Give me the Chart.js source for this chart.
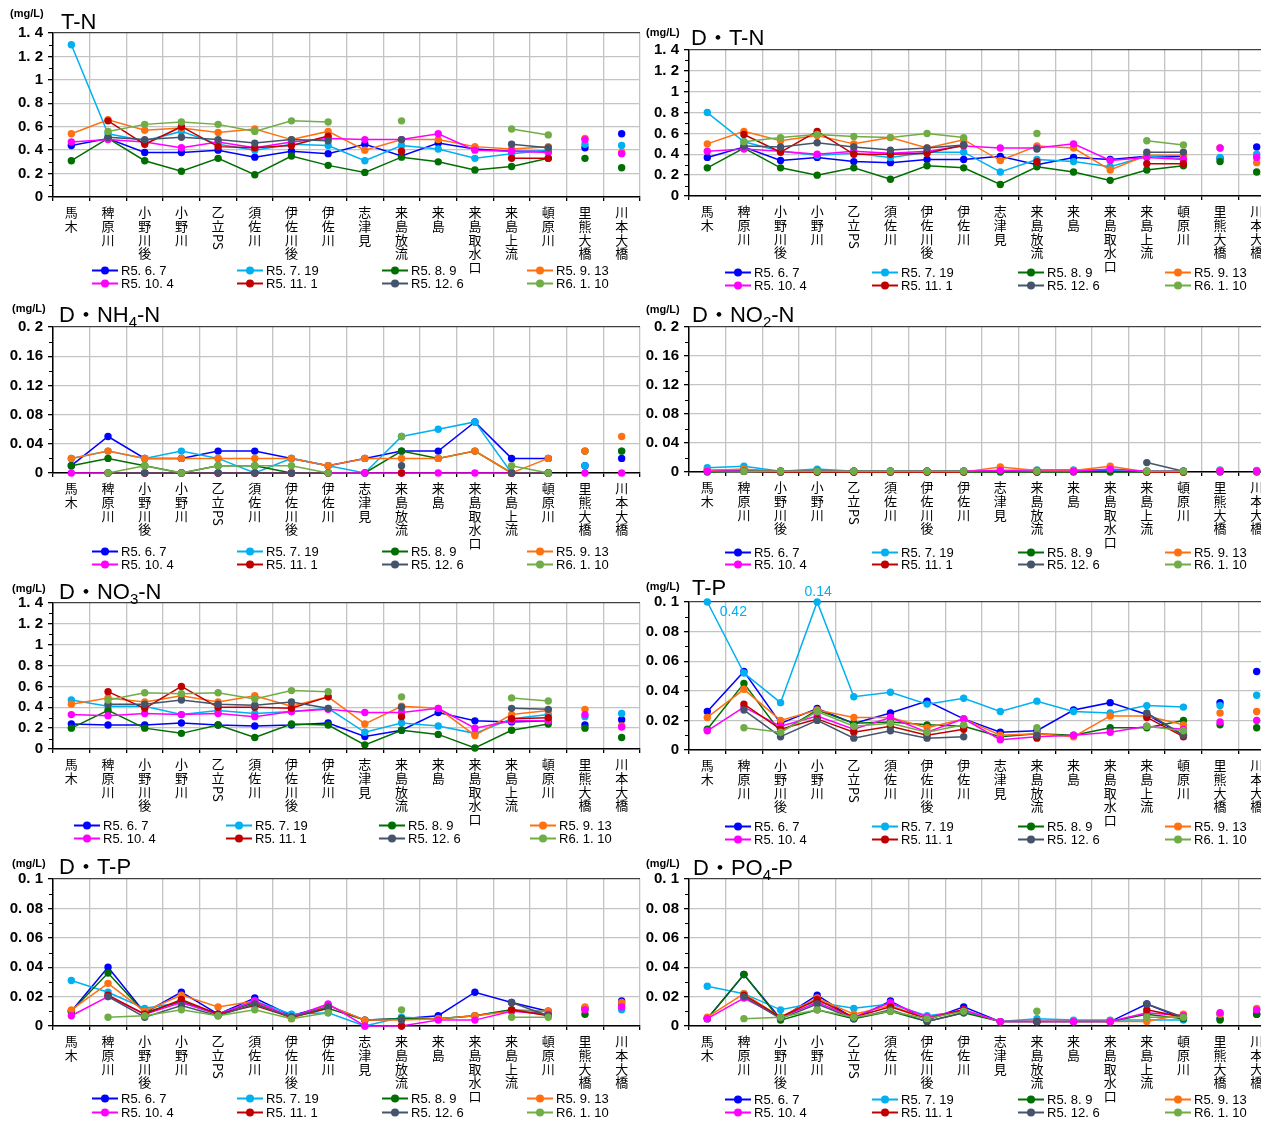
<!DOCTYPE html>
<html>
<head>
<meta charset="utf-8">
<title>水質調査結果</title>
<script src="https://cdn.jsdelivr.net/npm/chart.js@4.4.1/dist/chart.umd.min.js"></script>
<style>
  html, body { margin: 0; padding: 0; background: #fff; }
  body { position: relative; width: 1261px; height: 1121px; overflow: hidden; }
  canvas { position: absolute; }
</style>
</head>
<body>
<script>
// ---- 調査地点・調査日 ----
const STATIONS = ['馬木','稗原川','小野川後','小野川','乙立PS','須佐川','伊佐川後','伊佐川','志津見','来島放流','来島','来島取水口','来島上流','頓原川','里熊大橋','川本大橋'];
const SURVEY_DATES = ['R5. 6. 7','R5. 7. 19','R5. 8. 9','R5. 9. 13','R5. 10. 4','R5. 11. 1','R5. 12. 6','R6. 1. 10'];
const SERIES_COLORS = ['#0000ff','#00b0f0','#006e00','#ff7010','#ff00ff','#c00000','#44546a','#70ad47'];
// 頓原川までを線で結び、里熊大橋・川本大橋は点のみ
const LAST_LINKED = 13;

// ---- y軸目盛 (mg/L) ----
const TICKS_N  = [0, 0.2, 0.4, 0.6, 0.8, 1, 1.2, 1.4];
const TICKS_NX = [0, 0.04, 0.08, 0.12, 0.16, 0.2];
const TICKS_P  = [0, 0.02, 0.04, 0.06, 0.08, 0.1];

// ---- 測定値 (行 = 調査日, 列 = 地点, null = 欠測) ----
const TN_VALUES = [
  [0.44,0.50,0.38,0.38,0.40,0.34,0.39,0.37,0.45,0.35,0.46,0.41,0.39,0.39,0.42,0.54],
  [1.30,0.54,0.48,0.56,0.45,0.40,0.45,0.44,0.31,0.44,0.41,0.33,0.37,0.40,0.45,0.44],
  [0.31,0.50,0.31,0.22,0.33,0.19,0.35,0.27,0.21,0.34,0.30,0.23,0.26,0.33,0.33,0.25],
  [0.54,0.66,0.57,0.59,0.55,0.58,0.49,0.56,0.40,0.49,0.49,0.43,0.41,0.43,0.50,0.38],
  [0.47,0.49,0.47,0.42,0.47,0.42,0.47,0.50,0.49,0.49,0.54,0.40,0.39,0.38,0.49,0.37],
  [null,0.65,0.45,0.60,0.43,0.42,0.44,0.52,null,0.39,null,null,0.33,0.33,null,null],
  [null,0.51,0.49,0.51,0.49,0.46,0.49,0.48,null,0.49,null,null,0.45,0.42,null,null],
  [null,0.56,0.62,0.64,0.62,0.56,0.65,0.64,null,0.65,null,null,0.58,0.53,null,null]
];
const DTN_VALUES = [
  [0.37,0.47,0.34,0.37,0.33,0.32,0.35,0.35,0.38,0.30,0.37,0.35,0.38,0.38,0.36,0.47],
  [0.80,0.52,0.43,0.39,0.41,0.37,0.42,0.42,0.23,0.35,0.33,0.28,0.38,0.36,0.37,0.40],
  [0.27,0.46,0.27,0.20,0.27,0.16,0.29,0.27,0.11,0.28,0.23,0.15,0.25,0.29,0.33,0.23],
  [0.50,0.62,0.53,0.58,0.50,0.56,0.46,0.54,0.34,0.48,0.46,0.25,0.39,0.39,0.46,0.32],
  [0.43,0.45,0.43,0.40,0.43,0.41,0.43,0.48,0.46,0.46,0.50,0.34,0.37,0.35,0.46,0.37],
  [null,0.59,0.42,0.62,0.40,0.40,0.41,0.49,null,0.33,null,null,0.31,0.31,null,null],
  [null,0.48,0.47,0.51,0.47,0.44,0.46,0.49,null,0.45,null,null,0.42,0.42,null,null],
  [null,0.52,0.56,0.59,0.57,0.56,0.60,0.56,null,0.60,null,null,0.53,0.49,null,null]
];
const NH4_VALUES = [
  [0.01,0.05,0.02,0.02,0.03,0.03,0.02,0.01,0.02,0.03,0.03,0.07,0.02,0.02,0.01,0.02],
  [0.02,0.03,0.02,0.03,0.02,0.00,0.02,0.01,0.00,0.05,0.06,0.07,0.00,0.00,0.01,0.03],
  [0.01,0.02,0.01,0.00,0.01,0.01,0.00,0.00,0.00,0.03,0.02,0.03,0.00,0.00,0.03,0.03],
  [0.02,0.03,0.02,0.02,0.02,0.02,0.02,0.01,0.02,0.02,0.02,0.03,0.00,0.02,0.03,0.05],
  [0.00,0.00,0.00,0.00,0.00,0.00,0.00,0.00,0.00,0.00,0.00,0.00,0.00,0.00,0.00,0.00],
  [null,0.00,0.00,0.00,0.00,0.00,0.00,0.00,null,0.00,null,null,0.00,0.00,null,null],
  [null,0.00,0.00,0.00,0.00,0.00,0.00,0.00,null,0.01,null,null,0.00,0.00,null,null],
  [null,0.00,0.01,0.00,0.01,0.01,0.01,0.00,null,0.05,null,null,0.01,0.00,null,null]
];
const NO2_VALUES = [
  [0.002,0.003,0.001,0.002,0.001,0.001,0.001,0.001,0.001,0.001,0.001,0.002,0.001,0.001,0.001,0.001],
  [0.006,0.008,0.001,0.004,0.001,0.001,0.001,0.001,0.002,0.003,0.003,0.003,0.001,0.001,0.003,0.002],
  [0.000,0.001,0.000,0.000,0.000,0.000,0.000,0.000,0.000,0.000,0.000,0.000,0.000,0.000,0.000,0.000],
  [0.002,0.004,0.000,0.001,0.000,0.000,0.000,0.000,0.007,0.002,0.002,0.008,0.000,0.000,0.002,0.001],
  [0.001,0.001,0.001,0.001,0.001,0.001,0.001,0.001,0.002,0.001,0.001,0.004,0.001,0.001,0.001,0.001],
  [null,0.001,0.000,0.000,0.000,0.000,0.000,0.000,null,0.000,null,null,0.000,0.000,null,null],
  [null,0.001,0.001,0.001,0.001,0.001,0.001,0.001,null,0.001,null,null,0.013,0.001,null,null],
  [null,0.001,0.001,0.001,0.001,0.001,0.001,0.001,null,0.001,null,null,0.001,0.001,null,null]
];
const NO3_VALUES = [
  [0.24,0.23,0.23,0.25,0.23,0.22,0.23,0.25,0.12,0.18,0.35,0.27,0.26,0.27,0.23,0.28],
  [0.47,0.41,0.41,0.33,0.37,0.34,0.36,0.39,0.16,0.25,0.22,0.15,0.29,0.33,0.31,0.34],
  [0.20,0.37,0.20,0.15,0.23,0.11,0.24,0.23,0.04,0.18,0.14,0.01,0.18,0.24,0.20,0.11],
  [0.43,0.49,0.45,0.51,0.45,0.51,0.41,0.50,0.24,0.41,0.39,0.13,0.33,0.37,0.38,0.22],
  [0.33,0.32,0.34,0.33,0.34,0.31,0.36,0.38,0.35,0.35,0.39,0.20,0.27,0.27,0.33,0.21],
  [null,0.55,0.39,0.60,0.40,0.40,0.39,0.50,null,0.31,null,null,0.29,0.30,null,null],
  [null,0.43,0.43,0.47,0.43,0.42,0.45,0.39,null,0.40,null,null,0.39,0.38,null,null],
  [null,0.47,0.54,0.53,0.54,0.48,0.56,0.55,null,0.50,null,null,0.49,0.46,null,null]
];
const TP_VALUES = [
  [0.026,0.053,0.018,0.028,0.018,0.025,0.033,0.021,0.012,0.013,0.027,0.032,0.024,0.010,0.032,0.053],
  [0.42,0.052,0.032,0.14,0.036,0.039,0.031,0.035,0.026,0.033,0.026,0.025,0.030,0.029,0.030,0.037],
  [0.014,0.045,0.012,0.027,0.018,0.019,0.017,0.016,0.009,0.011,0.010,0.015,0.015,0.020,0.017,0.015],
  [0.022,0.041,0.020,0.027,0.022,0.022,0.015,0.021,0.010,0.011,0.009,0.023,0.023,0.017,0.025,0.026],
  [0.013,0.029,0.016,0.023,0.014,0.022,0.012,0.021,0.007,0.009,0.010,0.012,0.016,0.014,0.019,0.020],
  [null,0.031,0.014,0.021,0.012,0.016,0.010,0.014,null,0.008,null,null,0.022,0.009,null,null],
  [null,0.027,0.009,0.020,0.008,0.013,0.008,0.009,null,0.010,null,null,0.025,0.010,null,null],
  [null,0.015,0.012,0.026,0.016,0.018,0.012,0.017,null,0.015,null,null,0.016,0.013,null,null]
];
const DTP_VALUES = [
  [0.010,0.040,0.009,0.023,0.008,0.019,0.007,0.014,0.004,0.005,0.007,0.023,0.016,0.010,0.012,0.017],
  [0.031,0.023,0.012,0.016,0.008,0.017,0.008,0.009,0.000,0.006,0.005,0.007,0.011,0.010,0.011,0.011],
  [0.010,0.036,0.009,0.017,0.008,0.016,0.006,0.012,0.004,0.005,0.005,0.007,0.011,0.008,0.008,0.015],
  [0.011,0.029,0.010,0.021,0.013,0.017,0.005,0.014,0.004,0.004,0.005,0.007,0.010,0.010,0.013,0.016],
  [0.007,0.020,0.008,0.016,0.008,0.017,0.006,0.015,0.000,0.000,0.004,0.004,0.010,0.008,0.011,0.013],
  [null,0.021,0.008,0.018,0.008,0.014,0.006,0.012,null,0.000,null,null,0.011,0.007,null,null],
  [null,0.020,0.006,0.014,0.007,0.015,0.006,0.013,null,0.004,null,null,0.016,0.007,null,null],
  [null,0.006,0.007,0.011,0.007,0.011,0.005,0.009,null,0.011,null,null,0.006,0.006,null,null]
];
const PO4_VALUES = [
  [0.005,0.035,0.005,0.021,0.005,0.017,0.004,0.013,0.003,0.003,0.003,0.003,0.015,0.005,0.005,0.008],
  [0.027,0.022,0.011,0.016,0.012,0.015,0.007,0.010,0.003,0.005,0.004,0.004,0.004,0.004,0.008,0.011],
  [0.005,0.035,0.004,0.011,0.005,0.010,0.003,0.009,0.003,0.003,0.003,0.003,0.008,0.005,0.004,0.008],
  [0.006,0.022,0.006,0.019,0.008,0.014,0.005,0.011,0.003,0.003,0.003,0.003,0.003,0.008,0.008,0.012],
  [0.005,0.019,0.006,0.016,0.006,0.016,0.006,0.011,0.003,0.003,0.003,0.003,0.009,0.007,0.009,0.011],
  [null,0.021,0.006,0.018,0.006,0.013,0.005,0.011,null,0.003,null,null,0.011,0.006,null,null],
  [null,0.020,0.005,0.015,0.005,0.011,0.003,0.009,null,0.003,null,null,0.015,0.006,null,null],
  [null,0.005,0.006,0.011,0.006,0.010,0.005,0.010,null,0.010,null,null,0.006,0.006,null,null]
];

// ---- fonts ----
const NARROW = '"Liberation Sans Narrow","Liberation Sans",Arial,sans-serif';
const SANS = '"Liberation Sans",Arial,sans-serif';
const CJK = '"Noto Sans CJK JP","Noto Sans",sans-serif';

// ---- panel layout (canvas placement and plot frame, px) ----
const LEFT_LEGEND = [92, 237, 382, 527];
const RIGHT_LEGEND = [85, 232, 378, 525];
const PANELS = [
  { values: TN_VALUES,  ticks: TICKS_N,  title: [['T-N','']],                x: 0,   y: 0,   w: 641, h: 295, left: 53, top: 33, bottom: 197, padR: 1,
    titleAt: [61, 29], unitAt: [10, 17], legendX: LEFT_LEGEND,  legendY: [270, 283] },
  { values: DTN_VALUES, ticks: TICKS_N,  title: [['D・T-N','']],             x: 640, y: 0,   w: 640, h: 295, left: 49, top: 50, bottom: 196, padR: 5,
    titleAt: [51, 45], unitAt: [6, 36],  legendX: RIGHT_LEGEND, legendY: [272, 285] },
  { values: NH4_VALUES, ticks: TICKS_NX, title: [['D・NH',''],['4','s'],['-N','']], x: 0,   y: 295, w: 641, h: 280, left: 53, top: 32, bottom: 178, padR: 1,
    titleAt: [59, 27], unitAt: [12, 17], legendX: LEFT_LEGEND,  legendY: [256, 269] },
  { values: NO2_VALUES, ticks: TICKS_NX, title: [['D・NO',''],['2','s'],['-N','']], x: 640, y: 295, w: 640, h: 280, left: 49, top: 32, bottom: 177, padR: 5,
    titleAt: [52, 27], unitAt: [6, 18],  legendX: RIGHT_LEGEND, legendY: [257, 269] },
  { values: NO3_VALUES, ticks: TICKS_N,  title: [['D・NO',''],['3','s'],['-N','']], x: 0,   y: 575, w: 641, h: 275, left: 53, top: 28, bottom: 174, padR: 1,
    titleAt: [59, 24], unitAt: [12, 17], legendX: [74, 226, 379, 530], legendY: [250, 263] },
  { values: TP_VALUES,  ticks: TICKS_P,  title: [['T-P','']],                x: 640, y: 575, w: 640, h: 275, left: 49, top: 27, bottom: 175, padR: 5,
    titleAt: [52, 20], unitAt: [6, 15],  legendX: RIGHT_LEGEND, legendY: [251, 264],
    offScale: { series: 1, place: { 0: [26, 10], 3: [1, -10] } } },
  { values: DTP_VALUES, ticks: TICKS_P,  title: [['D・T-P','']],             x: 0,   y: 850, w: 641, h: 271, left: 53, top: 29, bottom: 176, padR: 1,
    titleAt: [59, 24], unitAt: [12, 17], legendX: LEFT_LEGEND,  legendY: [248, 262] },
  { values: PO4_VALUES, ticks: TICKS_P,  title: [['D・PO',''],['4','s'],['-P','']], x: 640, y: 850, w: 640, h: 271, left: 49, top: 29, bottom: 176, padR: 5,
    titleAt: [53, 25], unitAt: [6, 17],  legendX: RIGHT_LEGEND, legendY: [249, 262] }
];

function tickText(v) {
  if (v === 0) return '0';
  return String(Math.round(v * 1000) / 1000).replace('.', '. ');
}

// Titles, stacked station names, minor ticks, legend and off-scale value labels
const panelDecor = {
  id: 'panelDecor',
  afterDraw(chart) {
    const p = chart.options.plugins.panelDecor.panel;
    const ctx = chart.ctx;
    const area = chart.chartArea;
    const xs = chart.scales.x, ys = chart.scales.y;
    ctx.save();

    // minor ticks on the value axis
    ctx.strokeStyle = '#000'; ctx.lineWidth = 1;
    for (let i = 0; i < p.ticks.length - 1; i++) {
      const ym = Math.round(ys.getPixelForValue((p.ticks[i] + p.ticks[i + 1]) / 2)) + 0.5;
      ctx.beginPath(); ctx.moveTo(area.left - 4, ym); ctx.lineTo(area.left, ym); ctx.stroke();
    }

    // unit and title
    ctx.fillStyle = '#000';
    ctx.textAlign = 'left'; ctx.textBaseline = 'alphabetic';
    ctx.font = 'bold 11px ' + NARROW;
    ctx.fillText('(mg/L)', p.unitAt[0], p.unitAt[1]);
    let tx = p.titleAt[0];
    p.title.forEach(([txt, kind]) => {
      if (kind === 's') {
        ctx.font = '15px ' + SANS;
        ctx.fillText(txt, tx, p.titleAt[1] + 5);
      } else {
        ctx.font = '22px ' + SANS + ',' + CJK;
        ctx.fillText(txt, tx, p.titleAt[1]);
      }
      tx += ctx.measureText(txt).width;
    });

    // station names, one character per line; latin runs turned sideways
    ctx.font = '13px ' + CJK;
    ctx.textAlign = 'center'; ctx.textBaseline = 'middle';
    const step = 13.6;
    STATIONS.forEach((name, i) => {
      const cx = xs.getPixelForValue(i);
      let cy = area.bottom + 15.5;
      const parts = name.match(/[A-Za-z0-9]+|./g);
      parts.forEach(t => {
        if (/^[A-Za-z0-9]+$/.test(t)) {
          const w = ctx.measureText(t).width;
          ctx.save();
          ctx.translate(cx, cy - step / 2 + w / 2 + 1);
          ctx.rotate(Math.PI / 2);
          ctx.fillText(t, 0, 0);
          ctx.restore();
          cy += w + 2;
        } else {
          ctx.fillText(t, cx, cy);
          cy += step;
        }
      });
    });

    // legend: two rows of four
    ctx.textAlign = 'left'; ctx.textBaseline = 'middle';
    ctx.font = '13px ' + NARROW;
    chart.data.datasets.forEach((ds, k) => {
      const lx = p.legendX[k % 4], ly = p.legendY[Math.floor(k / 4)] + 0.5;
      ctx.strokeStyle = ds.borderColor; ctx.lineWidth = 2;
      ctx.beginPath(); ctx.moveTo(lx, ly); ctx.lineTo(lx + 26, ly); ctx.stroke();
      ctx.fillStyle = ds.borderColor;
      ctx.beginPath(); ctx.arc(lx + 13, ly, 4, 0, Math.PI * 2); ctx.fill();
      ctx.fillStyle = '#000';
      ctx.fillText(ds.label, lx + 29, ly + 1);
    });

    // values above the axis maximum are pinned to the top edge and written out
    if (p.offScale) {
      const ds = chart.data.datasets[p.offScale.series];
      const meta = chart.getDatasetMeta(p.offScale.series);
      ctx.fillStyle = ds.borderColor;
      ctx.font = '14px ' + SANS;
      ctx.textAlign = 'center'; ctx.textBaseline = 'middle';
      ds.measured.forEach((v, i) => {
        const off = p.offScale.place[i];
        if (v == null || !off || v <= ys.max) return;
        const pt = meta.data[i];
        ctx.fillText(String(v), pt.x + off[0], pt.y + off[1]);
      });
    }
    ctx.restore();
  }
};

PANELS.forEach(p => {
  const cv = document.createElement('canvas');
  cv.width = p.w; cv.height = p.h;
  cv.style.left = p.x + 'px'; cv.style.top = p.y + 'px';
  cv.style.width = p.w + 'px'; cv.style.height = p.h + 'px';
  document.body.appendChild(cv);
  const yMax = p.ticks[p.ticks.length - 1];
  const n = p.values.length;

  const datasets = p.values.map((arr, k) => ({
    label: SURVEY_DATES[k],
    measured: arr,
    data: arr.map(v => (v == null ? null : Math.min(v, yMax))),
    // later survey dates are drawn over earlier ones
    order: n - 1 - k,
    borderColor: SERIES_COLORS[k],
    backgroundColor: SERIES_COLORS[k],
    pointBackgroundColor: SERIES_COLORS[k],
    pointBorderColor: SERIES_COLORS[k],
    pointBorderWidth: 0,
    pointRadius: 3.7,
    pointHoverRadius: 3.7,
    borderWidth: 1.5,
    tension: 0,
    spanGaps: false,
    clip: false,
    segment: {
      borderColor: c => (c.p0DataIndex >= LAST_LINKED ? 'rgba(0,0,0,0)' : undefined)
    }
  }));

  new Chart(cv, {
    type: 'line',
    data: { labels: STATIONS, datasets },
    plugins: [panelDecor],
    options: {
      responsive: false,
      animation: false,
      devicePixelRatio: 1,
      events: [],
      layout: { autoPadding: false, padding: { top: p.top, right: p.padR, bottom: 0, left: 0 } },
      plugins: {
        legend: { display: false },
        tooltip: { enabled: false },
        title: { display: false },
        panelDecor: { panel: p }
      },
      scales: {
        x: {
          type: 'category',
          offset: true,
          grid: { offset: true, color: '#c4c4c4', lineWidth: 1.3, drawTicks: true, tickLength: 4, tickColor: '#000' },
          border: { color: '#000', width: 1.5 },
          ticks: { display: false },
          afterFit: s => { s.height = p.h - p.bottom; }
        },
        y: {
          min: 0,
          max: yMax,
          afterBuildTicks: s => { s.ticks = p.ticks.map(v => ({ value: v })); },
          ticks: {
            autoSkip: false,
            callback: v => tickText(v),
            color: '#000',
            padding: 5,
            font: { family: NARROW, size: 15, weight: 'bold' }
          },
          grid: {
            color: c => (c.tick && Math.abs(c.tick.value - yMax) < 1e-9 ? '#404040' : '#c4c4c4'),
            lineWidth: 1.3,
            tickLength: 5,
            tickColor: '#000'
          },
          border: { color: '#000', width: 1.5 },
          afterFit: s => { s.width = p.left; }
        }
      }
    }
  });
});
</script>
</body>
</html>
